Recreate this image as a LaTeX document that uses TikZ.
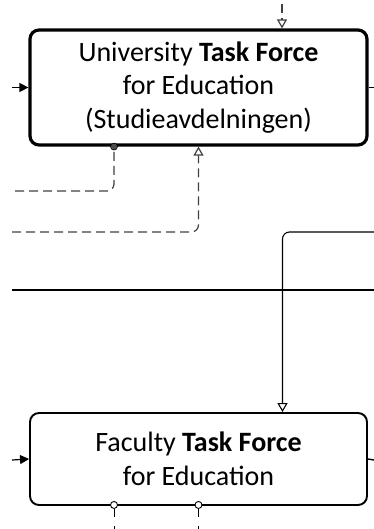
\documentclass[tikz,border=0pt]{standalone}
\usepackage{fontspec}
\setmainfont{Carlito}
\usetikzlibrary{arrows.meta, positioning}

\begin{document}
\begin{tikzpicture}[x=1pt, y=-1pt,
  task/.style={draw, rounded corners=9pt, align=center, minimum width=337pt,
    font=\fontsize{28}{33.5}\selectfont},
  flow/.style={dash pattern=on 9pt off 5pt, line width=1.2pt, draw=black!75},
  opentip/.style={-{Triangle[open, length=9pt, width=10pt]}},
  filltip/.style={-{Triangle[length=9pt, width=9pt]}},
  port/.style={circle, draw, inner sep=0pt, minimum size=7pt}]
\useasboundingbox (0,0) rectangle (374,529);

% task forces
\node[task, line width=3.2pt, minimum height=115pt] (utf) at (198.5,87.5)
  {University \textbf{Task Force}\\for Education\\(Studieavdelningen)};
\node[task, line width=1.9pt, minimum height=92pt] (ftf) at (198.5,459)
  {Faculty \textbf{Task Force}\\for Education};

% free ends
\coordinate (topin) at (282,4);
\coordinate (inU) at (12,87.5);
\coordinate (outU) at (374,87.5);
\coordinate (fbA) at (15,191);
\coordinate (fbB) at (12,232);
\coordinate (inC) at (374,232);
\coordinate (sepL) at (12,290);
\coordinate (sepR) at (374,290);
\coordinate (inF) at (12,460);
\coordinate (outF) at (374,460);

% ports
\node[port, fill=black!70, line width=0.6pt] (pA) at ([xshift=-84.5pt]utf.south) {};
\node[port, fill=white, line width=0.9pt, yshift=1pt] (pF1) at ([xshift=-84.5pt]ftf.south) {};
\node[port, fill=white, line width=0.9pt, yshift=1pt] (pF2) at (ftf.south) {};

% connectors
\draw[flow, opentip] (topin) -- ([xshift=83.5pt]utf.north);
\draw[filltip, line width=1.2pt] (inU) -- (utf.west);
\draw[line width=1.4pt] (utf.east) -- (outU);
\draw[flow, rounded corners=7pt] (fbA) -| (pA);
\draw[flow, opentip, rounded corners=7pt] (fbB) -| (utf.south);
\draw[line width=1.1pt, opentip, rounded corners=7pt] (inC) -| ([xshift=84pt]ftf.north);
\draw[line width=1.1pt] (sepL) -- (sepR);
\draw[filltip, line width=1.2pt] (inF) -- (ftf.west);
\draw[line width=1.4pt] (ftf.east) -- (outF);
\foreach \p in {pF1, pF2}
  \draw[line width=1pt, dash pattern=on 8pt off 9pt] (\p.south) -- (\p |- 0,529);
\end{tikzpicture}
\end{document}
